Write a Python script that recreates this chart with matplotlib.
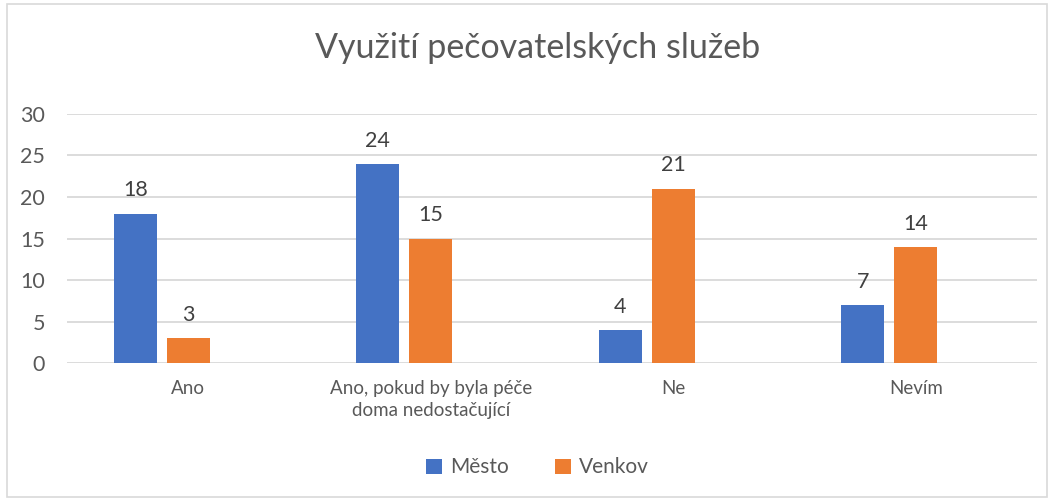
import numpy as np
import matplotlib.pyplot as plt
from matplotlib.patches import Rectangle

plt.rcParams['font.family'] = ['Lato', 'DejaVu Sans']

categories = ['Ano', 'Ano, pokud by byla péče\ndoma nedostačující', 'Ne', 'Nevím']
mesto = [18, 24, 4, 7]
venkov = [3, 15, 21, 14]
title = 'Využití pečovatelských služeb'

blue = '#4472C4'
orange = '#ED7D31'
text_col = '#595959'

fig = plt.figure(figsize=(10.54, 5.01), dpi=100)
ax = fig.add_axes([0.0636, 0.2754, 0.9203, 0.4971])

x = np.arange(len(categories))
w = 0.177
step = 0.2186
b1 = ax.bar(x - step, mesto, w, color=blue, label='Město')
b2 = ax.bar(x, venkov, w, color=orange, label='Venkov')

for bars in (b1, b2):
    for b in bars:
        ax.text(b.get_x() + b.get_width() / 2, b.get_height() + 1.6,
                str(int(b.get_height())), ha='center', va='bottom',
                fontsize=15.5, color='#404040')

ax.set_xlim(-0.5, len(categories) - 0.5)
ax.set_ylim(0, 30)
ax.set_yticks(range(0, 31, 5))
ax.set_xticks(x)
ax.set_xticklabels(categories)
ax.grid(axis='y', color='#D9D9D9', linewidth=1.3)
ax.set_axisbelow(True)
for s in ax.spines.values():
    s.set_visible(False)
ax.tick_params(axis='both', length=0, colors=text_col, labelsize=15.5)
ax.tick_params(axis='y', pad=16)
ax.tick_params(axis='x', pad=12)
for lbl in ax.get_xticklabels():
    lbl.set_fontsize(13.5)
    lbl.set_linespacing(1.35)

fig.text(0.51, 0.905, title, ha='center', va='center', fontsize=24.5, color=text_col)

fig.legend(handles=[b1, b2], loc='center', bbox_to_anchor=(0.51, 0.067), ncol=2,
           frameon=False, fontsize=15, labelcolor=text_col, handlelength=0.75,
           handleheight=0.75, handletextpad=0.4, columnspacing=2.2)

fig.patches.append(Rectangle((0.007, 0.008), 0.986, 0.984, transform=fig.transFigure,
                             fill=False, edgecolor='#D9D9D9', linewidth=1.2))

fig.savefig('out.png', dpi=100)
